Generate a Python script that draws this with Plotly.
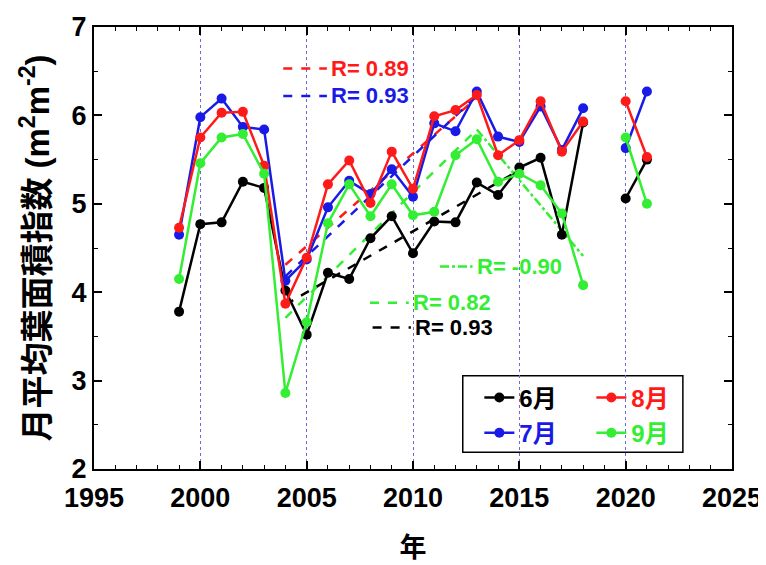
import plotly.graph_objects as go

years = [1999, 2000, 2001, 2002, 2003, 2004, 2005, 2006, 2007, 2008, 2009, 2010,
         2011, 2012, 2013, 2014, 2015, 2016, 2017, 2018, 2019, 2020, 2021]
jun = [3.78, 4.77, 4.79, 5.25, 5.18, 4.02, 3.52, 4.22, 4.15, 4.61, 4.86, 4.44,
       4.80, 4.79, 5.24, 5.10, 5.41, 5.52, 4.65, 5.92, None, 5.06, 5.50]
jul = [4.65, 5.98, 6.19, 5.87, 5.84, 4.13, 4.37, 4.96, 5.26, 5.11, 5.39, 5.08,
       5.91, 5.82, 6.27, 5.76, 5.70, 6.10, 5.61, 6.08, None, 5.63, 6.27]
aug = [4.73, 5.75, 6.03, 6.04, 5.43, 3.87, 4.39, 5.22, 5.49, 5.01, 5.59, 5.17,
       5.99, 6.06, 6.23, 5.55, 5.72, 6.16, 5.59, 5.93, None, 6.16, 5.53]
sep = [4.15, 5.46, 5.75, 5.79, 5.34, 2.86, 3.66, 4.78, 5.22, 4.86, 5.22, 4.87,
       4.91, 5.55, 5.73, 5.25, 5.34, 5.21, 4.89, 4.08, None, 5.75, 5.00]

# trend lines (endpoints)
trend_aug_x, trend_aug_y = [2004, 2013], [4.31, 6.20]
trend_jul_x, trend_jul_y = [2004, 2013], [4.18, 6.22]
trend_sep_up_x, trend_sep_up_y = [2004, 2013], [3.71, 5.84]
trend_sep_dn_x, trend_sep_dn_y = [2013, 2018], [5.84, 4.41]
trend_jun_x, trend_jun_y = [2004, 2015], [3.86, 5.38]

r_labels = ["R= 0.89", "R= 0.93", "R= -0.90", "R= 0.82", "R= 0.93"]

BLACK, RED, BLUE, GREEN = "#000000", "#ff1a1a", "#1a1ae6", "#33ee33"
GRIDC = "#6a6ad8"

fig = go.Figure()

def trend(x, y, color, dash):
    fig.add_trace(go.Scatter(x=x, y=y, mode="lines", showlegend=False,
                             line=dict(color=color, width=2.5, dash=dash)))

trend(trend_aug_x, trend_aug_y, RED, "dash")
trend(trend_jul_x, trend_jul_y, BLUE, "dash")
trend(trend_sep_up_x, trend_sep_up_y, GREEN, "dash")
trend(trend_sep_dn_x, trend_sep_dn_y, GREEN, "dashdot")
trend(trend_jun_x, trend_jun_y, BLACK, "dash")

def series(y, color, name, legend):
    fig.add_trace(go.Scatter(
        x=years, y=y, mode="lines+markers", connectgaps=False,
        name=f"<span style='color:{color}'>{name}</span>", legend=legend,
        line=dict(color=color, width=2.5),
        marker=dict(color=color, size=10)))

series(jun, BLACK, "6月", "legend")
series(jul, BLUE, "7月", "legend2")
series(aug, RED, "8月", "legend")
series(sep, GREEN, "9月", "legend2")

FONT = "Liberation Sans, Arial, Noto Sans CJK JP"

# R annotations with line samples
samples = [
    (2003.90, 2005.95, 6.53, RED, "dash", r_labels[0]),
    (2003.90, 2005.95, 6.22, BLUE, "dash", r_labels[1]),
    (2011.27, 2012.80, 4.29, GREEN, "dashdot", r_labels[2]),
    (2007.98, 2009.80, 3.88, GREEN, "dash", r_labels[3]),
    (2008.10, 2009.90, 3.60, BLACK, "dash", r_labels[4]),
]
for x0, x1, yy, col, dsh, lab in samples:
    fig.add_shape(type="line", xref="x", yref="y", x0=x0, x1=x1, y0=yy, y1=yy,
                  line=dict(color=col, width=2.5, dash=dsh))
    fig.add_annotation(x=x1 + 0.12, y=yy, xref="x", yref="y", text=lab,
                       showarrow=False, xanchor="left", yanchor="middle",
                       font=dict(family=FONT, size=22, color=col, weight="bold"))

# legend frame
fig.add_shape(type="rect", xref="paper", yref="paper", x0=0.578, x1=0.923,
              y0=0.038, y1=0.211, line=dict(color="black", width=1.5),
              fillcolor="white", layer="between")

legfont = dict(family=FONT, size=24, weight="bold")
fig.update_layout(
    width=758, height=557,
    margin=dict(l=86, r=34, t=19, b=96),
    paper_bgcolor="white", plot_bgcolor="white",
    legend=dict(orientation="h", x=0.604, y=0.161, xanchor="left", yanchor="middle",
                font=legfont, bgcolor="rgba(0,0,0,0)", entrywidth=67,
                traceorder="normal"),
    legend2=dict(orientation="h", x=0.604, y=0.081, xanchor="left", yanchor="middle",
                 font=legfont, bgcolor="rgba(0,0,0,0)", entrywidth=67,
                 traceorder="normal"),
    xaxis=dict(range=[1995, 2025], dtick=5, tick0=1995, ticks="inside", ticklen=8,
               tickwidth=1.5, tickcolor="black", showline=True, linewidth=2,
               linecolor="black", mirror="allticks", showgrid=True,
               gridcolor=GRIDC, griddash="dot", gridwidth=1, zeroline=False,
               automargin=False, ticklabelstandoff=4,
               minor=dict(dtick=1, ticks="inside", ticklen=4, tickcolor="black",
                          tickwidth=1.2, showgrid=False),
               tickfont=dict(family=FONT, size=27, weight="bold", color="black"),
               title=dict(text="年", standoff=34,
                          font=dict(family="Noto Sans CJK JP", size=27, color="black",
                                    weight="bold"))),
    yaxis=dict(range=[2, 7], dtick=1, ticks="inside", ticklen=8, tickwidth=1.5,
               tickcolor="black", showline=True, linewidth=2, linecolor="black",
               mirror="allticks", showgrid=False, zeroline=False, automargin=False,
               minor=dict(dtick=0.5, ticks="inside", ticklen=4, tickcolor="black",
                          tickwidth=1.2, showgrid=False),
               tickfont=dict(family=FONT, size=27, weight="bold", color="black"),
               title=dict(text="月平均葉面積指数 (m<sup>2</sup>m<sup>-2</sup>)", standoff=12,
                          font=dict(family=FONT, size=33, weight="bold", color="black"))),
)

fig.write_html("out.html")
